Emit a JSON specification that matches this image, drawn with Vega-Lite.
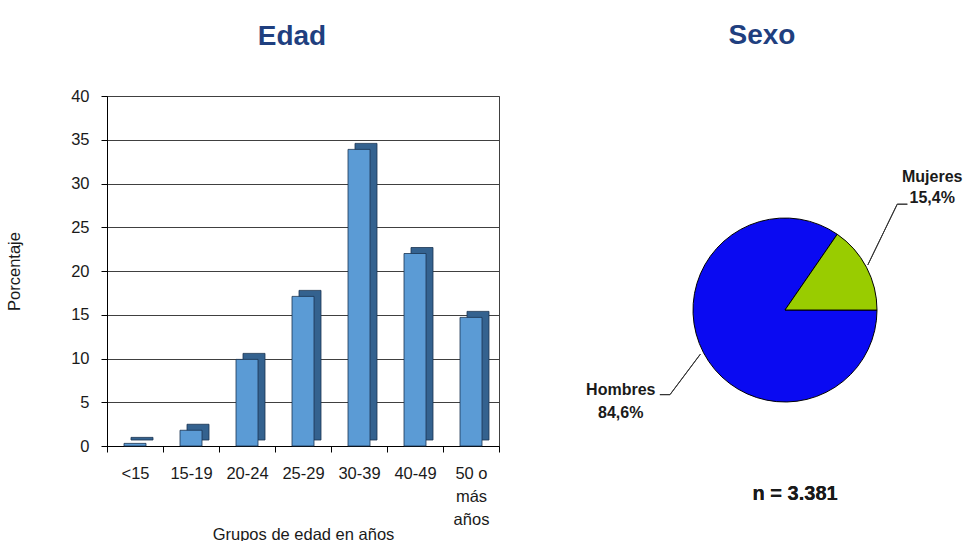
{
  "$schema": "https://vega.github.io/schema/vega-lite/v6.json",
  "background": "white",
  "padding": {"left": 6, "top": 22, "right": 0, "bottom": 0},
  "bounds": "flush",
  "spacing": 102,
  "config": {
    "font": "Liberation Sans",
    "locale": {"number": {"decimal": ",", "thousands": ".", "grouping": [3], "currency": ["", " €"]}},
    "title": {"font": "Liberation Sans", "fontSize": 28, "fontWeight": "bold", "color": "#1F3F7F", "anchor": "middle", "frame": "group", "baseline": "bottom"}
  },
  "hconcat": [
    {
      "title": {"text": "Edad", "dx": -11, "offset": 37},
      "width": 392,
      "height": 350,
      "view": {"stroke": "#404040", "strokeWidth": 1},
      "data": {"values": [
        {"grupo": "<15", "pct": 0.3},
        {"grupo": "15-19", "pct": 1.8},
        {"grupo": "20-24", "pct": 9.9},
        {"grupo": "25-29", "pct": 17.1},
        {"grupo": "30-39", "pct": 33.9},
        {"grupo": "40-49", "pct": 22.0},
        {"grupo": "50 o más años", "pct": 14.7}
      ]},
      "encoding": {
        "x": {"field": "grupo", "type": "nominal", "sort": null,
          "scale": {"paddingInner": 0, "paddingOuter": 0},
          "axis": {"title": "Grupos de edad en años", "labelAngle": 0, "tickBand": "extent", "tickSize": 6,
            "tickColor": "#000", "domainColor": "#000", "labelFontSize": 16.5, "labelColor": "#1a1a1a",
            "labelPadding": 13, "labelLineHeight": 23, "labelBaseline": "top",
            "labelExpr": "datum.label == '50 o más años' ? ['50 o', 'más', 'años'] : datum.label",
            "titleFontSize": 16.5, "titleFontWeight": "normal", "titleColor": "#1a1a1a", "titlePadding": 0, "titleY": 80}},
        "y": {"field": "pct", "type": "quantitative", "scale": {"domain": [0, 40], "nice": false},
          "axis": {"title": "Porcentaje", "values": [0, 5, 10, 15, 20, 25, 30, 35, 40], "tickSize": 6,
            "tickColor": "#000", "domainColor": "#000", "gridColor": "#404040", "gridWidth": 1,
            "labelFontSize": 16.5, "labelColor": "#1a1a1a", "labelPadding": 12,
            "titleFontSize": 16.5, "titleFontWeight": "normal", "titleColor": "#1a1a1a", "titlePadding": 48}}
      },
      "layer": [
        {"mark": {"type": "bar", "width": 22, "xOffset": 7, "yOffset": -6, "fill": "#34628F", "stroke": "#1B3350", "strokeWidth": 0.8}},
        {"mark": {"type": "bar", "width": 22, "fill": "#5B9BD5", "stroke": "#1B3350", "strokeWidth": 0.8}}
      ]
    },
    {
      "title": {"text": "Sexo", "dx": -23, "offset": 46},
      "width": 368,
      "height": 428,
      "view": {"stroke": null},
      "data": {"values": [
        {"sexo": "Hombres", "pct": 0.846},
        {"sexo": "Mujeres", "pct": 0.154}
      ]},
      "layer": [
        {
          "mark": {"type": "arc", "outerRadius": 92, "stroke": "#000", "strokeWidth": 1},
          "encoding": {
            "theta": {"field": "pct", "type": "quantitative", "stack": true, "scale": {"domain": [0, 1], "range": [0.6039, 6.8871]}},
            "order": {"field": "sexo", "type": "nominal", "sort": "descending"},
            "color": {"field": "sexo", "type": "nominal", "scale": {"domain": ["Mujeres", "Hombres"], "range": ["#99CC00", "#0A0AF2"]}, "legend": null}
          }
        },
        {
          "mark": {"type": "text", "radius": 190, "dx": -21, "dy": -45, "fontSize": 16, "fontWeight": "bold", "color": "#1a1a1a"},
          "encoding": {
            "theta": {"field": "pct", "type": "quantitative", "stack": true},
            "order": {"field": "sexo", "type": "nominal", "sort": "descending"},
            "text": {"field": "sexo", "type": "nominal", "condition": {"test": "datum.sexo !== 'Mujeres'", "value": ""}}
          }
        },
        {
          "mark": {"type": "text", "radius": 190, "dx": -21, "dy": -24, "fontSize": 16, "fontWeight": "bold", "color": "#1a1a1a"},
          "encoding": {
            "theta": {"field": "pct", "type": "quantitative", "stack": true},
            "order": {"field": "sexo", "type": "nominal", "sort": "descending"},
            "text": {"field": "pct", "type": "quantitative", "format": ".1%", "condition": {"test": "datum.sexo !== 'Mujeres'", "value": ""}}
          }
        },
        {
          "mark": {"type": "text", "radius": 190, "dx": 4, "dy": -8, "fontSize": 16, "fontWeight": "bold", "color": "#1a1a1a"},
          "encoding": {
            "theta": {"field": "pct", "type": "quantitative", "stack": true},
            "order": {"field": "sexo", "type": "nominal", "sort": "descending"},
            "text": {"field": "sexo", "type": "nominal", "condition": {"test": "datum.sexo !== 'Hombres'", "value": ""}}
          }
        },
        {
          "mark": {"type": "text", "radius": 190, "dx": 4, "dy": 15, "fontSize": 16, "fontWeight": "bold", "color": "#1a1a1a"},
          "encoding": {
            "theta": {"field": "pct", "type": "quantitative", "stack": true},
            "order": {"field": "sexo", "type": "nominal", "sort": "descending"},
            "text": {"field": "pct", "type": "quantitative", "format": ".1%", "condition": {"test": "datum.sexo !== 'Hombres'", "value": ""}}
          }
        },
        {
          "mark": {"type": "rule", "color": "#333", "strokeWidth": 1},
          "encoding": {
            "x": {"datum": 0.90, "type": "quantitative", "scale": {"domain": [-2, 2], "nice": false, "zero": false}, "axis": null},
            "y": {"datum": 0.49, "type": "quantitative", "scale": {"domain": [-2.326, 2.326], "nice": false, "zero": false}, "axis": null},
            "x2": {"datum": 1.22},
            "y2": {"datum": 1.15}
          }
        },
        {
          "mark": {"type": "rule", "color": "#333", "strokeWidth": 1},
          "encoding": {
            "x": {"datum": 1.22, "type": "quantitative", "axis": null},
            "y": {"datum": 1.15, "type": "quantitative", "axis": null},
            "x2": {"datum": 1.33},
            "y2": {"datum": 1.15}
          }
        },
        {
          "mark": {"type": "rule", "color": "#333", "strokeWidth": 1},
          "encoding": {
            "x": {"datum": -0.92, "type": "quantitative", "axis": null},
            "y": {"datum": -0.48, "type": "quantitative", "axis": null},
            "x2": {"datum": -1.25},
            "y2": {"datum": -0.92}
          }
        },
        {
          "mark": {"type": "rule", "color": "#333", "strokeWidth": 1},
          "encoding": {
            "x": {"datum": -1.25, "type": "quantitative", "axis": null},
            "y": {"datum": -0.92, "type": "quantitative", "axis": null},
            "x2": {"datum": -1.36},
            "y2": {"datum": -0.92}
          }
        },
        {
          "mark": {"type": "text", "text": "n = 3.381", "fontSize": 20, "fontWeight": "bold", "color": "#1a1a1a"},
          "encoding": {
            "x": {"datum": 0.11, "type": "quantitative", "axis": null},
            "y": {"datum": -2.0, "type": "quantitative", "axis": null}
          }
        }
      ]
    }
  ]
}
